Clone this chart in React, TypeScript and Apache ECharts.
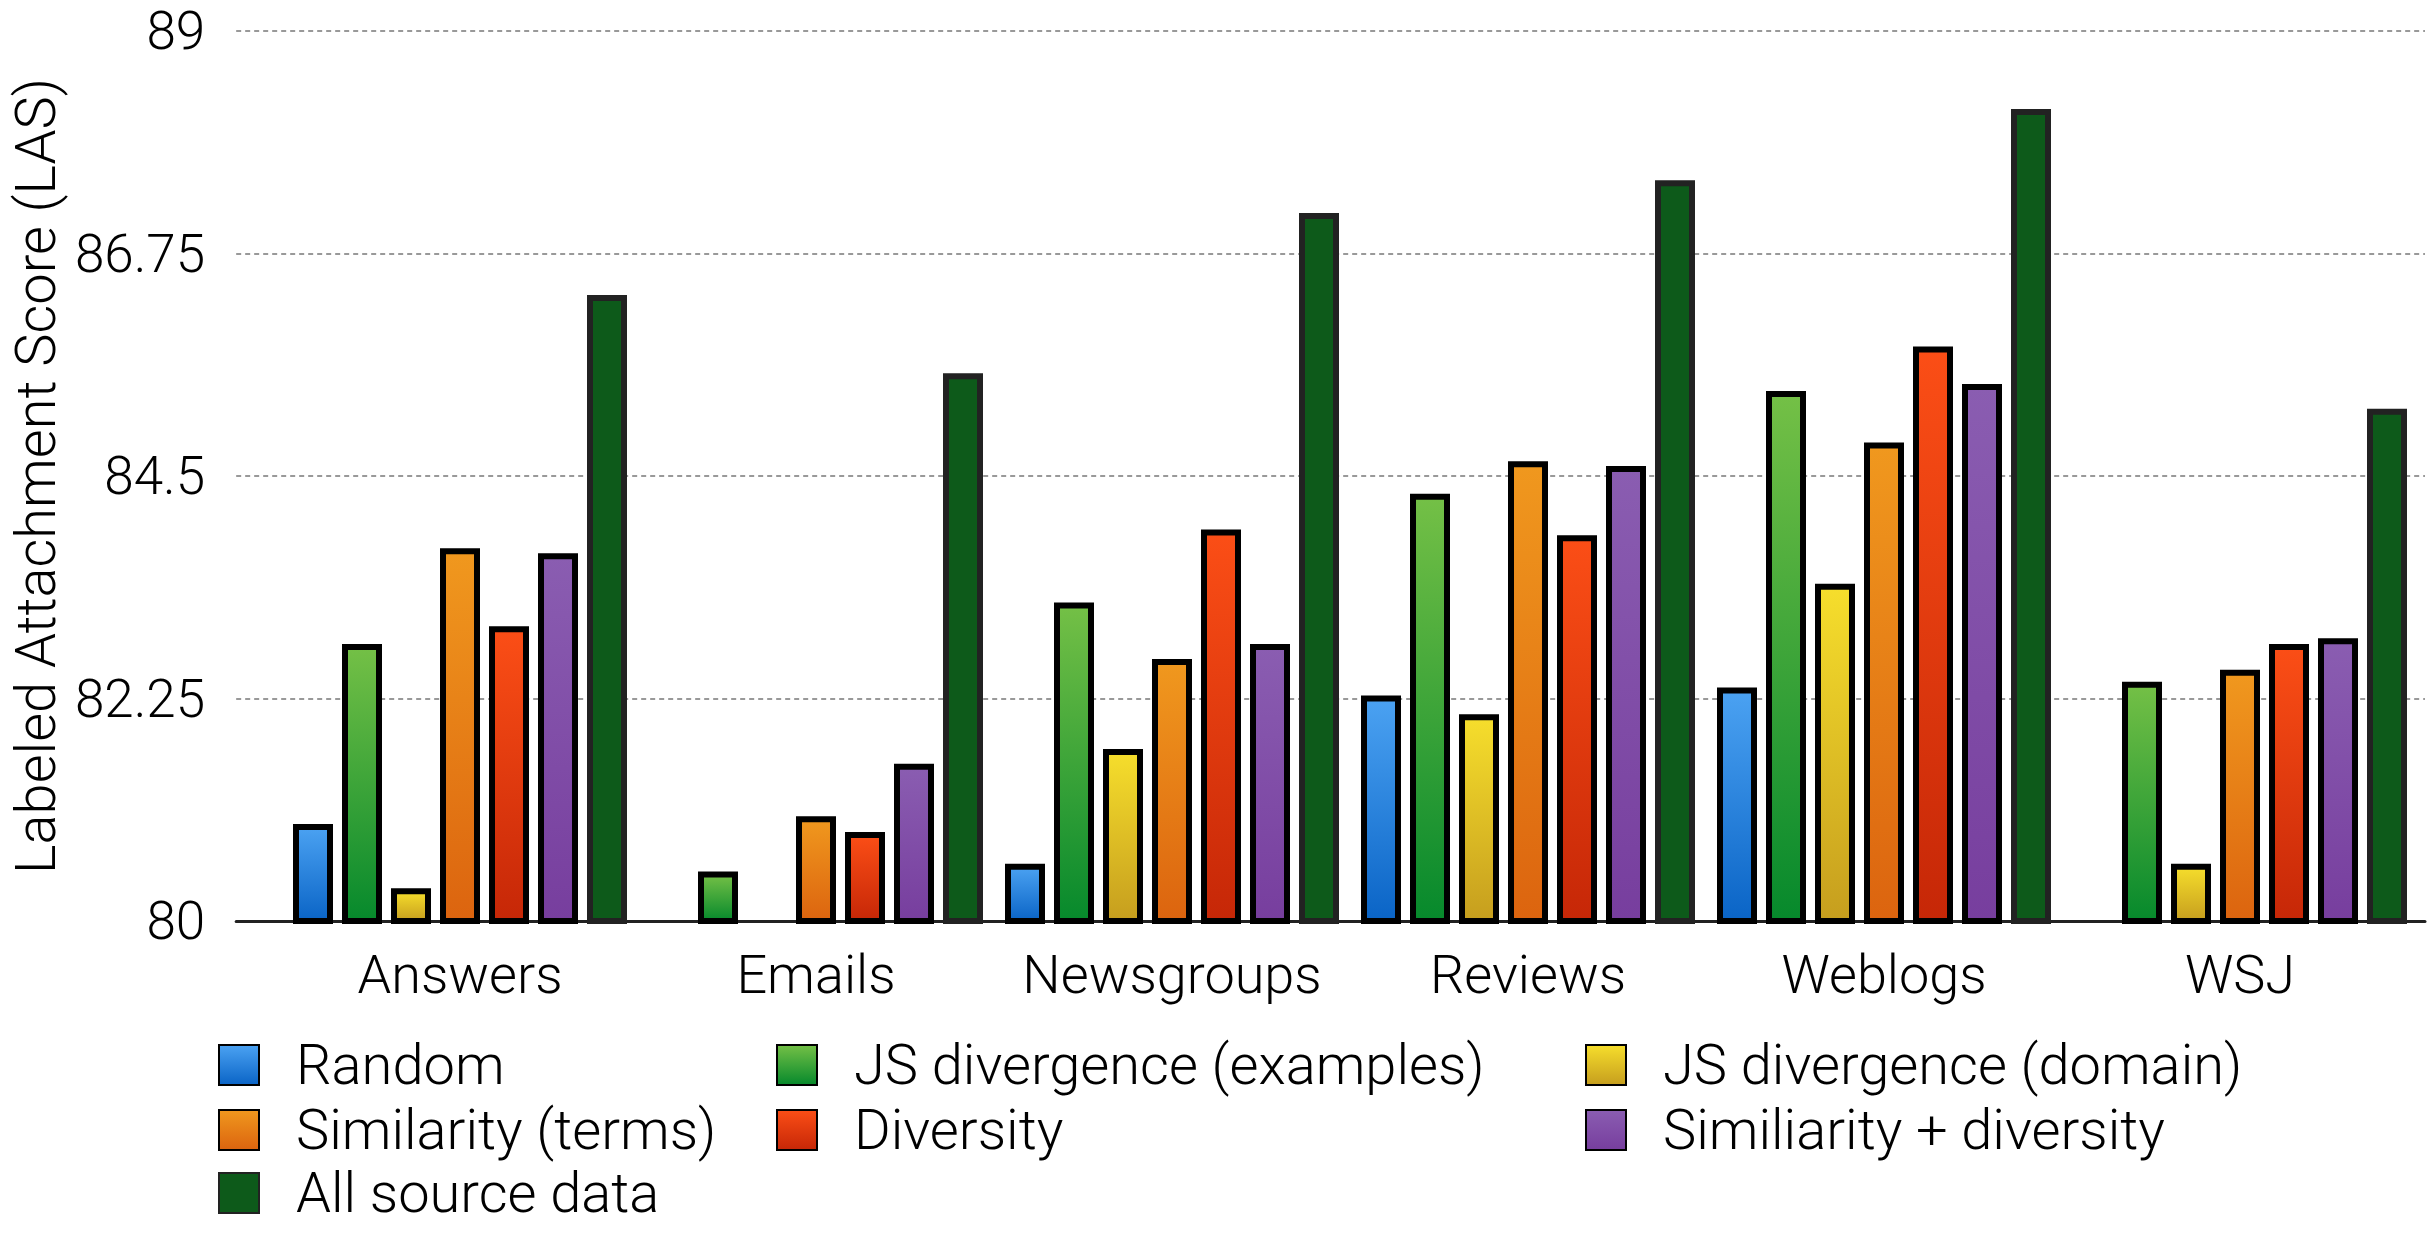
import React, { useEffect, useRef } from "react";
import * as echarts from "echarts";

const categories = ["Answers", "Emails", "Newsgroups", "Reviews", "Weblogs", "WSJ"];
const seriesNames = [
  "Random",
  "JS divergence (examples)",
  "JS divergence (domain)",
  "Similarity (terms)",
  "Diversity",
  "Similiarity + diversity",
  "All source data",
];
const random = [80.98, null, 80.58, 82.28, 82.36, null];
const jsExamples = [82.8, 80.5, 83.22, 84.32, 85.36, 82.42];
const jsDomain = [80.33, null, 81.74, 82.09, 83.41, 80.58];
const simTerms = [83.77, 81.06, 82.65, 84.65, 84.84, 82.54];
const diversity = [82.98, 80.9, 83.96, 83.9, 85.81, 82.8];
const simDiv = [83.72, 81.59, 82.8, 84.6, 85.43, 82.86];
const allSource = [86.33, 85.54, 87.16, 87.49, 88.21, 85.18];
const yTicks = [80, 82.25, 84.5, 86.75, 89];

const seriesData = [random, jsExamples, jsDomain, simTerms, diversity, simDiv, allSource];
const gradients: [string, string][] = [
  ["#4ba2f2", "#0a64c6"],
  ["#74c046", "#06892c"],
  ["#f6de2c", "#c69e1e"],
  ["#f0981e", "#dc640f"],
  ["#fb4e16", "#c62707"],
  ["#8a5db1", "#773e9e"],
  ["#0d5a1a", "#0d5a1a"],
];
const borders = ["#000", "#000", "#000", "#000", "#000", "#000", "#222"];
// legend layout: [series index, column, row]
const legendSlots: [number, number, number][] = [
  [0, 0, 0],
  [1, 1, 0],
  [2, 2, 0],
  [3, 0, 1],
  [4, 1, 1],
  [5, 2, 1],
  [6, 0, 2],
];
const legendCols = [218, 776, 1585];
const legendRowCenters = [1065, 1130, 1193];

const FONT = "Roboto, 'Helvetica Neue', Arial, sans-serif";

export default function App() {
  const ref = useRef<HTMLDivElement>(null);
  useEffect(() => {
    if (!ref.current) return;
    const chart = echarts.init(ref.current, undefined, { renderer: "svg" });
    const grad = (i: number) =>
      new echarts.graphic.LinearGradient(0, 0, 0, 1, [
        { offset: 0, color: gradients[i][0] },
        { offset: 1, color: gradients[i][1] },
      ]);
    const legendText = {
      fontFamily: FONT,
      fontWeight: 300,
      fontSize: 56,
      color: "#000",
      padding: [0, 0, 0, 32],
    };
    chart.setOption({
      animation: false,
      grid: [
        { left: 209, right: 10, top: 31, height: 890 },
        { left: 282, right: 17, top: 31, height: 890 },
      ],
      xAxis: [
        {
          type: "value",
          gridIndex: 0,
          min: 0,
          max: 1,
          axisLine: { show: true, onZero: false, lineStyle: { color: "#222", width: 3 } },
          axisTick: { show: false },
          axisLabel: { show: false },
          splitLine: { show: false },
        },
        {
          type: "category",
          gridIndex: 1,
          data: categories,
          axisLine: { show: false },
          axisTick: { show: false },
          axisLabel: {
            interval: 0,
            fontFamily: FONT,
            fontWeight: 300,
            fontSize: 54,
            color: "#000",
            margin: 26,
          },
        },
      ],
      yAxis: [
        {
          type: "value",
          gridIndex: 0,
          min: yTicks[0],
          max: yTicks[yTicks.length - 1],
          interval: yTicks[1] - yTicks[0],
          name: "Labeled Attachment Score (LAS)",
          nameLocation: "middle",
          nameGap: 112,
          nameTextStyle: { fontFamily: FONT, fontWeight: 300, fontSize: 56, color: "#000" },
          axisLine: { show: false },
          axisTick: { show: false },
          axisLabel: {
            fontFamily: FONT,
            fontWeight: 300,
            fontSize: 53,
            color: "#000",
            margin: 31,
            formatter: (v: number) => String(Math.round(v * 100) / 100),
          },
          splitLine: {
            show: true,
            lineStyle: { color: "#999", width: 2, type: [5, 4] },
          },
        },
        {
          type: "value",
          gridIndex: 1,
          min: yTicks[0],
          max: yTicks[yTicks.length - 1],
          show: false,
          splitLine: { show: false },
        },
      ],
      legend: legendSlots.map(([si, col, row]) => ({
        orient: "horizontal",
        left: legendCols[col],
        top: legendRowCenters[row] - 28,
        padding: 0,
        itemWidth: 40,
        itemHeight: 40,
        icon: "rect",
        selectedMode: false,
        textStyle: legendText,
        data: [seriesNames[si]],
      })),
      series: seriesNames.map((name, i) => ({
        name,
        type: "bar",
        xAxisIndex: 1,
        yAxisIndex: 1,
        data: seriesData[i],
        barWidth: 40,
        barGap: "22.5%",
        itemStyle: {
          color: grad(i),
          borderColor: borders[i],
          borderWidth: 6,
        },
      })),
    });
    return () => chart.dispose();
  }, []);
  return (
    <div
      ref={ref}
      style={{ position: "absolute", left: 0, top: 0, width: 2435, height: 1236 }}
    />
  );
}
